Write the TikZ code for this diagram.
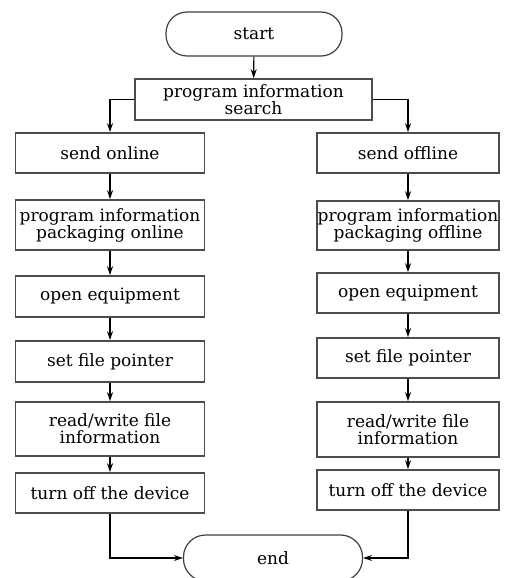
\documentclass[tikz,border=0pt]{standalone}
\usepackage{fontspec}
\setmainfont{DejaVu Serif}
\usetikzlibrary{arrows.meta}
\begin{document}
\begin{tikzpicture}[x=1pt,y=-1pt,
  every node/.style={font=\fontsize{17}{17}\selectfont, align=center, inner sep=0pt},
  box/.style={draw=black!70, line width=1.6pt, rectangle},
  term/.style={draw=black!75, line width=1.2pt, rounded corners=21pt},
  flow/.style={draw=black, line width=1.1pt, -{Stealth[length=9pt,width=6pt,inset=3pt]}}]
\useasboundingbox[fill=white] (0,0) rectangle (509,578);
\clip (0,0) rectangle (509,578);

\node[term, minimum width=176pt, minimum height=44pt] (start) at (254,34) {start};
\node[box, minimum width=237pt, minimum height=41pt] (search) at (253.5,99.5) {program information\\search};

% online branch
\node[box, minimum width=189pt, minimum height=40pt] (l1) at (110,153) {send online};
\node[box, minimum width=189pt, minimum height=50pt] (l2) at (110,225) {program information\\packaging online};
\node[box, minimum width=189pt, minimum height=41pt] (l3) at (110,296.5) {open equipment};
\node[box, minimum width=189pt, minimum height=41pt] (l4) at (110,361.5) {set file pointer};
\node[box, minimum width=189pt, minimum height=54pt] (l5) at (110,429) {read/write file\\information};
\node[box, minimum width=189pt, minimum height=40pt] (l6) at (110,493) {turn off the device};

% offline branch
\node[box, minimum width=182pt, minimum height=40pt] (r1) at (408,153) {send offline};
\node[box, minimum width=182pt, minimum height=49pt] (r2) at (408,225.5) {program information\\packaging offline};
\node[box, minimum width=182pt, minimum height=40pt] (r3) at (408,293) {open equipment};
\node[box, minimum width=182pt, minimum height=40pt] (r4) at (408,358) {set file pointer};
\node[box, minimum width=182pt, minimum height=55pt] (r5) at (408,429.5) {read/write file\\information};
\node[box, minimum width=182pt, minimum height=40pt] (r6) at (408,490) {turn off the device};

% terminal at the foot, running past the lower edge
\node[term, minimum width=179pt, minimum height=46pt, rounded corners=22pt] (end) at (273,558) {end};

\draw[flow] (start) -- (search);
\draw[flow] (search.west) -| (l1.north);
\draw[flow] (search.east) -| (r1.north);

\foreach \a/\b in {l1/l2,l2/l3,l3/l4,l4/l5,l5/l6,r1/r2,r2/r3,r3/r4,r4/r5,r5/r6}
  \draw[flow] (\a) -- (\b);

\draw[flow] (l6.south) |- (end.west);
\draw[flow] (r6.south) |- (end.east);
\end{tikzpicture}
\end{document}
